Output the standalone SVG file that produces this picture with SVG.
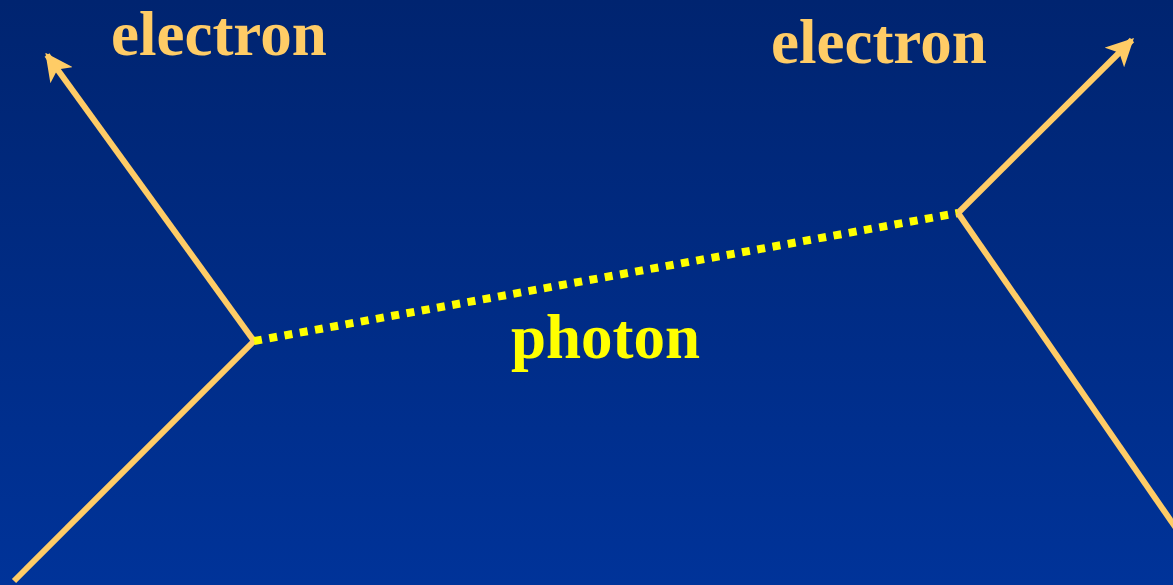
<svg xmlns="http://www.w3.org/2000/svg" width="1173" height="585" viewBox="0 0 1173 585">
<defs>
<linearGradient id="bg" x1="0" y1="0" x2="0" y2="1">
<stop offset="0" stop-color="#002470"/>
<stop offset="1" stop-color="#003399"/>
</linearGradient>
<marker id="arr" viewBox="0 0 10 10" refX="9" refY="5" markerWidth="4.6" markerHeight="4.6" markerUnits="strokeWidth" orient="auto">
<path d="M0,0 L10,5 L0,10 L2.5,5 Z" fill="#FFCC66"/>
</marker>
<style>
.e{stroke:#FFCC66;stroke-width:6;fill:none}
.ph{stroke:#FFFF00;stroke-width:8;stroke-dasharray:8 7.5;fill:none}
.t{font-family:"Liberation Serif",serif;font-weight:bold;font-size:63px}
</style>
</defs>
<rect width="1173" height="585" fill="url(#bg)"/>
<g id="connectors">
<line class="e" x1="14" y1="581" x2="254" y2="341"/>
<line class="e" x1="254" y1="341" x2="47" y2="55" marker-end="url(#arr)"/>
<line class="ph" x1="254" y1="341" x2="958" y2="213"/>
<line class="e" x1="958" y1="213" x2="1132" y2="40" marker-end="url(#arr)"/>
<line class="e" x1="958" y1="213" x2="1178" y2="531"/>
</g>
<g id="label-electron-left"><text class="t" x="111" y="55" fill="#FFCC66">electron</text></g>
<g id="label-electron-right"><text class="t" x="771" y="63" fill="#FFCC66">electron</text></g>
<g id="label-photon"><text class="t" x="511" y="358" fill="#FFFF00">photon</text></g>
</svg>
